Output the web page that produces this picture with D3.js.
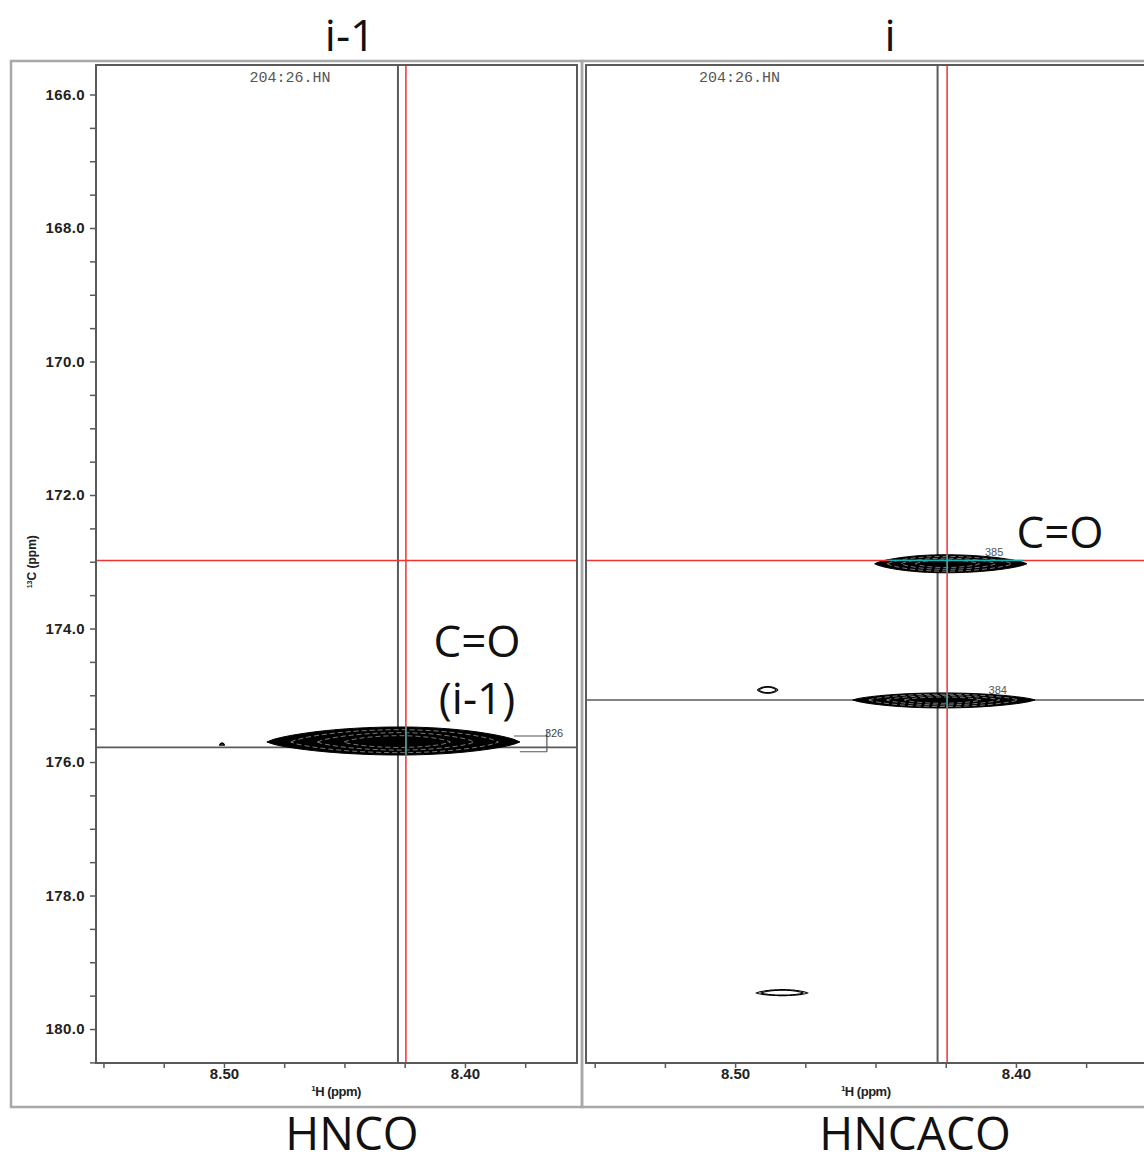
<!DOCTYPE html>
<html><head><meta charset="utf-8">
<script src="https://cdn.jsdelivr.net/npm/d3@7"></script>
<style>body{margin:0;background:#fff}</style>
</head><body>
<svg id="c" width="1144" height="1162"></svg>
<script>
// ---- data ----
const panelTitles = ["i-1", "i"];
const experiments = ["HNCO", "HNCACO"];
const spectrumIds = ["204:26.HN", "204:26.HN"];
const yMajorTicks = [166, 168, 170, 172, 174, 176, 178, 180];
const yMinorTicks = [166.5, 167, 167.5, 168.5, 169, 169.5, 170.5, 171, 171.5, 172.5, 173, 173.5,
                     174.5, 175, 175.5, 176.5, 177, 177.5, 178.5, 179, 179.5, 180.5];
const xMajorTicks = [8.50, 8.40];
const xMinorTicks = [8.55, 8.525, 8.475, 8.45, 8.425, 8.375];
const hDomain = [8.5531, 8.3535];
const cDomain = [165.558, 180.509];
const cursorH = [8.4245, 8.4245];      // red vertical cursor
const cursorC = [172.98, 172.98];      // red horizontal cursor
const peakLineH = [8.4278, 8.4279];    // gray vertical
const peakLineC = [175.78, 175.07];    // gray horizontal
const idPosH = [8.4726, 8.4984];       // where the spectrum id is centred
// peaks: panel, 1H centre, 13C centre, left/right half widths (ppm), up/down half heights (ppm), filled, label
const peakPanel = [0, 0, 1, 1, 1, 1];
const peakH     = [8.4270, 8.5008, 8.4253, 8.4264, 8.4884, 8.4831];
const peakC     = [175.70, 175.745, 173.03, 175.07, 174.92, 179.46];
const peakWL    = [0.0552, 0.0010, 0.0250, 0.0317, 0.0036, 0.0093];
const peakWR    = [0.0498, 0.0010, 0.0292, 0.0332, 0.0036, 0.0089];
const peakHT    = [0.225, 0.03, 0.135, 0.105, 0.05, 0.05];
const peakHB    = [0.195, 0.0, 0.135, 0.12, 0.05, 0.04];
const peakFill  = [true, false, true, true, false, false];
const peakLabel = ["326", "", "385", "384", "", ""];
const contourLevels = [1, 0.82, 0.62, 0.42];
const assignments = [{panel: 0, lines: ["C=O", "(i-1)"]}, {panel: 1, lines: ["C=O"]}];

// ---- layout ----
const svg = d3.select("#c");
const plotY = [65, 1063];
const plotX = [[96, 577], [586, 1146.5]];
const frameX = [[11, 582], [582, 1160]];
const frameY = [61, 1107];
const red = "#ee3333", gray = "#5a5a5a", cyan = "#11b5b5";

const y = d3.scaleLinear().domain(cDomain).range(plotY);

// outer frames
frameX.forEach(fx => {
  svg.append("rect").attr("x", fx[0]).attr("y", frameY[0]).attr("width", fx[1] - fx[0])
    .attr("height", frameY[1] - frameY[0]).attr("fill", "none").attr("stroke", "#a8a8a8").attr("stroke-width", 2.5);
});

function lens(p, x, s) {
  const pts = [];
  const n = 40;
  for (let i = 0; i <= n; i++) {
    const t = -1 + 2 * i / n;
    const w = t < 0 ? peakWL[p] : peakWR[p];
    const f = Math.pow(Math.max(0, 1 - t * t), 0.75);
    pts.push([x(peakH[p] - t * w * s), y(peakC[p] - peakHT[p] * f * s)]);
  }
  for (let i = n; i >= 0; i--) {
    const t = -1 + 2 * i / n;
    const w = t < 0 ? peakWL[p] : peakWR[p];
    const f = Math.pow(Math.max(0, 1 - t * t), 0.75);
    pts.push([x(peakH[p] - t * w * s), y(peakC[p] + peakHB[p] * f * s)]);
  }
  return d3.line()(pts) + "Z";
}

[0, 1].forEach(k => {
  const x = d3.scaleLinear().domain(hDomain).range(plotX[k]);
  const g = svg.append("g");
  const clipId = "clip" + k;
  svg.append("clipPath").attr("id", clipId).append("rect")
    .attr("x", plotX[k][0]).attr("y", plotY[0]).attr("width", plotX[k][1] - plotX[k][0]).attr("height", plotY[1] - plotY[0]);
  const inner = g.append("g").attr("clip-path", `url(#${clipId})`);

  // gray peak lines
  inner.append("line").attr("x1", x(peakLineH[k])).attr("x2", x(peakLineH[k])).attr("y1", plotY[0]).attr("y2", plotY[1])
    .attr("stroke", gray).attr("stroke-width", 2);
  inner.append("line").attr("x1", plotX[k][0]).attr("x2", plotX[k][1]).attr("y1", y(peakLineC[k])).attr("y2", y(peakLineC[k]))
    .attr("stroke", gray).attr("stroke-width", 1.6);

  // peaks
  peakPanel.forEach((pp, p) => {
    if (pp !== k) return;
    if (peakFill[p]) {
      inner.append("path").attr("d", lens(p, x, 1)).attr("fill", "#000").attr("stroke", "#000").attr("stroke-width", 1);
      contourLevels.slice(1).forEach(s => {
        inner.append("path").attr("d", lens(p, x, s)).attr("fill", "none").attr("stroke", "#fff")
          .attr("stroke-width", 0.6).attr("stroke-dasharray", "5,3").attr("opacity", 0.8);
      });
    } else {
      contourLevels.slice(0, 2).forEach(s => {
        inner.append("path").attr("d", lens(p, x, s)).attr("fill", "none").attr("stroke", "#000").attr("stroke-width", 1.1);
      });
    }
  });

  // red cursors
  inner.append("line").attr("x1", x(cursorH[k])).attr("x2", x(cursorH[k])).attr("y1", plotY[0]).attr("y2", plotY[1])
    .attr("stroke", red).attr("stroke-width", 1.5);
  inner.append("line").attr("x1", plotX[k][0]).attr("x2", plotX[k][1]).attr("y1", y(cursorC[k])).attr("y2", y(cursorC[k]))
    .attr("stroke", red).attr("stroke-width", 1.5);

  // cyan highlight on peaks at cursor
  peakPanel.forEach((pp, p) => {
    if (pp !== k || !peakFill[p]) return;
    inner.append("line").attr("x1", x(cursorH[k])).attr("x2", x(cursorH[k]))
      .attr("y1", y(peakC[p] - peakHT[p])).attr("y2", y(peakC[p] + peakHB[p])).attr("stroke", cyan).attr("stroke-width", 1.5);
  });
  if (k === 1) {
    inner.append("line").attr("x1", x(peakH[2] + peakWL[2] * 0.8)).attr("x2", x(peakH[2] - peakWR[2] * 0.95))
      .attr("y1", y(cursorC[k])).attr("y2", y(cursorC[k])).attr("stroke", cyan).attr("stroke-width", 1.2);
  }

  // peak labels
  peakPanel.forEach((pp, p) => {
    if (pp !== k || !peakLabel[p]) return;
    if (k === 0) {
      const xr = x(peakH[p] - peakWR[p]);
      const bx = xr + 27;
      const yt = y(peakC[p] - peakHT[p] * 0.4), yb = y(peakC[p] + peakHB[p] * 0.75);
      inner.append("path").attr("d", `M${xr - 6},${yt}H${bx}M${xr},${yb}H${bx}M${bx},${yt - 6}V${yb}`)
        .attr("fill", "none").attr("stroke", "#555").attr("stroke-width", 1.2);
      inner.append("text").attr("x", bx - 2).attr("y", yt + 1).text(peakLabel[p])
        .attr("font-family", "Liberation Sans, Arial").attr("font-size", 11).attr("fill", "#444");
    } else {
      inner.append("text").attr("x", x(peakH[p] - peakWR[p] * 0.6)).attr("y", y(peakC[p] - peakHT[p]) + 1)
        .attr("text-anchor", "middle").text(peakLabel[p])
        .attr("font-family", "Liberation Sans, Arial").attr("font-size", 11).attr("fill", "#555");
    }
  });

  // plot box
  g.append("rect").attr("x", plotX[k][0]).attr("y", plotY[0]).attr("width", plotX[k][1] - plotX[k][0])
    .attr("height", plotY[1] - plotY[0]).attr("fill", "none").attr("stroke", gray).attr("stroke-width", 2);

  // x axis
  const axX = g.append("g").attr("transform", `translate(0,${plotY[1]})`)
    .call(d3.axisBottom(x).tickValues(xMajorTicks).tickSize(5).tickFormat(d3.format(".2f")));
  const axXm = g.append("g").attr("transform", `translate(0,${plotY[1]})`)
    .call(d3.axisBottom(x).tickValues(xMinorTicks).tickSize(5).tickFormat(""));
  [axX, axXm].forEach(a => {
    a.select(".domain").remove();
    a.selectAll("line").attr("stroke", gray).attr("stroke-width", 1.5);
    a.selectAll("text").attr("font-family", "Liberation Sans, Arial").attr("font-weight", "bold")
      .attr("font-size", 15).attr("fill", "#222").attr("dy", "0.55em").attr("y", 8);
  });
  g.append("text").attr("x", x(8.4535)).attr("y", 1096)
    .attr("text-anchor", "middle").attr("font-family", "Liberation Sans, Arial").attr("font-weight", "bold")
    .attr("font-size", 13).attr("fill", "#222").attr("letter-spacing", -0.5)
    .html('<tspan font-size="8" dy="-5">1</tspan><tspan dy="5">H (ppm)</tspan>');

  // y axis (only on the left panel)
  if (k === 0) {
    const axY = g.append("g").attr("transform", `translate(${plotX[k][0]},0)`)
      .call(d3.axisLeft(y).tickValues(yMajorTicks).tickSize(6).tickPadding(5).tickFormat(d3.format(".1f")));
    const axYm = g.append("g").attr("transform", `translate(${plotX[k][0]},0)`)
      .call(d3.axisLeft(y).tickValues(yMinorTicks).tickSize(6).tickFormat(""));
    [axY, axYm].forEach(a => {
      a.select(".domain").remove();
      a.selectAll("line").attr("stroke", gray).attr("stroke-width", 1.5);
      a.selectAll("text").attr("font-family", "Liberation Sans, Arial").attr("font-weight", "bold")
        .attr("font-size", 15).attr("fill", "#222").attr("letter-spacing", 0.4);
    });
    g.append("text").attr("transform", `translate(36,${y(173.0)}) rotate(-90)`)
      .attr("text-anchor", "middle").attr("font-family", "Liberation Sans, Arial").attr("font-weight", "bold")
      .attr("font-size", 12).attr("fill", "#222")
      .html('<tspan font-size="7" dy="-4">13</tspan><tspan dy="4">C (ppm)</tspan>');
  }

  // spectrum id
  g.append("text").attr("x", x(idPosH[k])).attr("y", 82).attr("text-anchor", "middle")
    .attr("font-family", "Courier New, Liberation Mono, monospace").attr("font-size", 15).attr("fill", "#555")
    .text(spectrumIds[k]);

  // titles
  svg.append("text").attr("x", k === 0 ? 350 : 890).attr("y", 51).attr("text-anchor", "middle")
    .attr("font-family", "Open Sans").attr("font-size", 44).attr("fill", "#111").text(panelTitles[k]);
  svg.append("text").attr("x", k === 0 ? 352 : 915).attr("y", 1150).attr("text-anchor", "middle")
    .attr("font-family", "Open Sans").attr("font-size", 46).attr("fill", "#111").text(experiments[k]);
});

// assignment labels
const ax = [477, 1060];
const ay = [[657, 714], [548]];
assignments.forEach(a => {
  a.lines.forEach((t, i) => {
    svg.append("text").attr("x", ax[a.panel]).attr("y", ay[a.panel][i]).attr("text-anchor", "middle")
      .attr("font-family", "Open Sans").attr("font-size", 44).attr("fill", "#111").text(t);
  });
});
</script>
</body></html>
